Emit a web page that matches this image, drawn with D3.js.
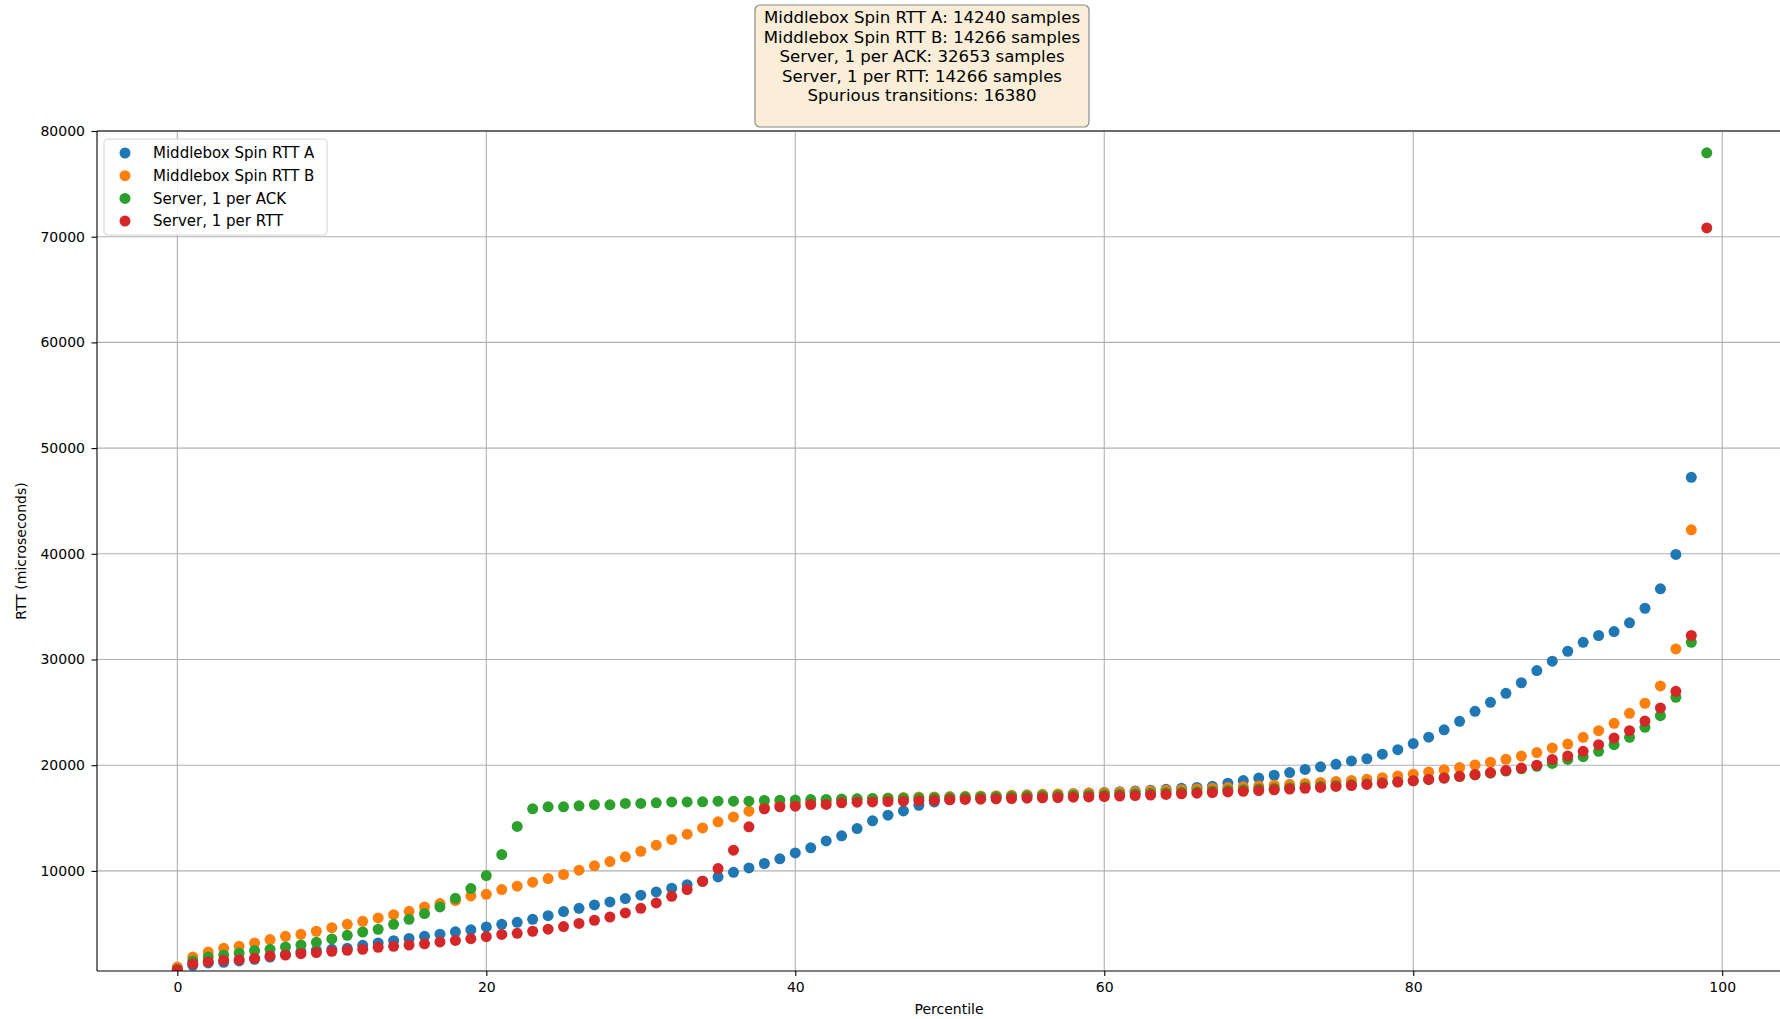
<!DOCTYPE html>
<html>
<head>
<meta charset="utf-8">
<script src="https://cdn.jsdelivr.net/npm/d3@7"></script>
<style>
  html, body { margin: 0; padding: 0; background: #fff; }
  svg { display: block; font-family: "DejaVu Sans", sans-serif; }
</style>
</head>
<body>
<svg id="chart" width="1780" height="1019"></svg>
<script>
// RTT percentile distributions (microseconds), one value per percentile
const percentiles = d3.range(0, 100);

const spinA = [
  600, 1070, 1290, 1350, 1480, 1630, 1850, 2100, 2350, 2480,
  2580, 2680, 2960, 3180, 3400, 3610, 3810, 4010, 4240, 4430,
  4700, 4950, 5140, 5420, 5760, 6150, 6460, 6780, 7060, 7380,
  7700, 8010, 8360, 8700, 9020, 9430, 9870, 10280, 10700, 11140,
  11700, 12180, 12840, 13320, 14010, 14740, 15270, 15670, 16200, 16530,
  16750, 16900, 17000, 17050, 17100, 17150, 17200, 17250, 17300, 17360,
  17420, 17490, 17560, 17640, 17720, 17810, 17900, 18000, 18300, 18550,
  18780, 19050, 19300, 19600, 19850, 20080, 20400, 20610, 21040, 21470,
  22050, 22650, 23350, 24150, 25100, 25950, 26800, 27800, 28950, 29840,
  30780, 31630, 32270, 32640, 33470, 34850, 36690, 39940, 47240
];

const spinB = [
  900, 1860, 2330, 2680, 2870, 3180, 3500, 3810, 4000, 4290,
  4630, 4950, 5230, 5550, 5860, 6180, 6590, 6910, 7200, 7630,
  7790, 8230, 8550, 8930, 9270, 9660, 10070, 10480, 10880, 11330,
  11860, 12430, 12970, 13470, 14070, 14640, 15110, 15650, 16000, 16250,
  16400, 16550, 16650, 16750, 16800, 16850, 16900, 16950, 16980, 17000,
  17030, 17060, 17090, 17120, 17160, 17200, 17240, 17280, 17320, 17360,
  17400, 17450, 17500, 17560, 17620, 17680, 17740, 17810, 17880, 17950,
  18030, 18110, 18190, 18280, 18370, 18460, 18560, 18680, 18820, 18980,
  19150, 19350, 19560, 19780, 20020, 20280, 20560, 20860, 21200, 21630,
  22000, 22640, 23270, 23960, 24910, 25860, 27500, 31000, 42270
];

const serverAck = [
  700, 1480, 1860, 2040, 2230, 2460, 2580, 2800, 2990, 3240,
  3560, 3910, 4220, 4480, 4950, 5420, 5960, 6590, 7410, 8330,
  9560, 11550, 14210, 15870, 16060, 16060, 16160, 16270, 16250, 16380,
  16380, 16440, 16530, 16530, 16540, 16600, 16600, 16600, 16660, 16690,
  16700, 16750, 16760, 16800, 16820, 16840, 16850, 16880, 16900, 16920,
  16950, 16980, 17000, 17020, 17050, 17080, 17100, 17120, 17150, 17180,
  17200, 17240, 17290, 17340, 17390, 17440, 17500, 17560, 17620, 17680,
  17740, 17800, 17870, 17940, 18010, 18090, 18170, 18250, 18340, 18430,
  18530, 18650, 18780, 18920, 19080, 19250, 19450, 19660, 19900, 20170,
  20550, 20810, 21310, 21940, 22640, 23580, 24690, 26430, 31630, 77940
];

const serverRtt = [
  650, 1220, 1410, 1540, 1600, 1730, 1950, 2040, 2170, 2270,
  2390, 2490, 2580, 2770, 2870, 2990, 3100, 3280, 3420, 3590,
  3780, 3990, 4100, 4290, 4490, 4730, 5030, 5330, 5640, 6020,
  6460, 6970, 7600, 8230, 9020, 10220, 11960, 14170, 15870, 16060,
  16120, 16280, 16290, 16440, 16500, 16520, 16560, 16600, 16640, 16680,
  16720, 16760, 16790, 16820, 16850, 16880, 16910, 16940, 16970, 17000,
  17030, 17080, 17130, 17180, 17230, 17290, 17350, 17410, 17470, 17530,
  17600, 17670, 17740, 17820, 17900, 17990, 18080, 18180, 18290, 18400,
  18520, 18650, 18790, 18950, 19120, 19300, 19500, 19730, 20000, 20550,
  20870, 21310, 21940, 22570, 23270, 24180, 25420, 26990, 32270, 70830
];

const seriesNames = ["Middlebox Spin RTT A", "Middlebox Spin RTT B", "Server, 1 per ACK", "Server, 1 per RTT"];
const seriesColors = ["#1f77b4", "#ff7f0e", "#2ca02c", "#d62728"];
const seriesValues = [spinA, spinB, serverAck, serverRtt];

const summaryLines = [
  "Middlebox Spin RTT A: 14240 samples",
  "Middlebox Spin RTT B: 14266 samples",
  "Server, 1 per ACK: 32653 samples",
  "Server, 1 per RTT: 14266 samples",
  "Spurious transitions: 16380"
];

const xTicks = [0, 20, 40, 60, 80, 100];
const yTicks = [10000, 20000, 30000, 40000, 50000, 60000, 70000, 80000];

// ---- layout ----
const svg = d3.select("#chart");
const plot = { left: 97, top: 131, right: 1801, bottom: 971 };

const x = d3.scaleLinear().domain([-5.2, 105.1]).range([plot.left, plot.right]);
const y = d3.scaleLinear().domain([530, 80000]).range([plot.bottom, plot.top]);

svg.append("rect").attr("width", 1780).attr("height", 1019).attr("fill", "#fff");

svg.append("defs").append("clipPath").attr("id", "plot-clip")
  .append("rect")
  .attr("x", plot.left).attr("y", plot.top)
  .attr("width", plot.right - plot.left).attr("height", plot.bottom - plot.top);

// grid
const grid = svg.append("g").attr("stroke", "#b0b0b0").attr("stroke-width", 1.1);
grid.selectAll("line.gx").data(xTicks).join("line")
  .attr("x1", d => x(d)).attr("x2", d => x(d))
  .attr("y1", plot.top).attr("y2", plot.bottom);
grid.selectAll("line.gy").data(yTicks).join("line")
  .attr("x1", plot.left).attr("x2", plot.right)
  .attr("y1", d => y(d)).attr("y2", d => y(d));

// points
const pts = svg.append("g").attr("clip-path", "url(#plot-clip)");
seriesValues.forEach((vals, s) => {
  pts.append("g").selectAll("circle")
    .data(vals.map((v, i) => [percentiles[i], v]))
    .join("circle")
    .attr("cx", d => x(d[0]))
    .attr("cy", d => y(d[1]))
    .attr("r", 5.5)
    .attr("fill", seriesColors[s]);
});

// axes
const xAxis = d3.axisBottom(x).tickValues(xTicks).tickSize(5).tickPadding(6).tickSizeOuter(0);
const yAxis = d3.axisLeft(y).tickValues(yTicks).tickSize(5.5).tickPadding(6.5).tickSizeOuter(0)
  .tickFormat(d3.format("d"));

const gx = svg.append("g").attr("transform", `translate(0,${plot.bottom})`).call(xAxis);
const gy = svg.append("g").attr("transform", `translate(${plot.left},0)`).call(yAxis);
[gx, gy].forEach(g => {
  g.select(".domain").remove();
  g.selectAll(".tick line").attr("stroke", "#000").attr("stroke-width", 1.1);
  g.selectAll(".tick text").attr("fill", "#000").style("font-size", "14px")
    .style("font-family", "DejaVu Sans, sans-serif");
});

// spines
const spines = svg.append("g").attr("stroke", "#000").attr("stroke-width", 1.1);
spines.append("line").attr("x1", plot.left).attr("x2", plot.left).attr("y1", plot.top).attr("y2", plot.bottom);
spines.append("line").attr("x1", plot.left).attr("x2", plot.right).attr("y1", plot.bottom).attr("y2", plot.bottom);
spines.append("line").attr("x1", plot.left).attr("x2", plot.right).attr("y1", plot.top).attr("y2", plot.top);

// axis labels
svg.append("text")
  .attr("x", (plot.left + plot.right) / 2).attr("y", 1014)
  .attr("text-anchor", "middle").style("font-size", "14px")
  .text("Percentile");
svg.append("text")
  .attr("transform", `translate(26,${(plot.top + plot.bottom) / 2}) rotate(-90)`)
  .attr("text-anchor", "middle").style("font-size", "14px")
  .text("RTT (microseconds)");

// legend
const lg = svg.append("g");
lg.append("rect")
  .attr("x", 104).attr("y", 139).attr("width", 223).attr("height", 96)
  .attr("rx", 4).attr("fill", "#fff").attr("fill-opacity", 0.8)
  .attr("stroke", "#d6d6d6").attr("stroke-width", 1.1);
seriesNames.forEach((name, i) => {
  const yy = 153 + i * 22.7;
  lg.append("circle").attr("cx", 125).attr("cy", yy).attr("r", 5.5).attr("fill", seriesColors[i]);
  lg.append("text").attr("x", 153).attr("y", yy + 5.3).style("font-size", "15px").attr("fill", "#000").text(name);
});

// sample-count summary box
const box = svg.append("g");
box.append("rect")
  .attr("x", 755).attr("y", 5).attr("width", 334).attr("height", 122)
  .attr("rx", 5).attr("fill", "#faeed9").attr("stroke", "#8a8a8a").attr("stroke-width", 1.2);
summaryLines.forEach((t, i) => {
  box.append("text")
    .attr("x", 922).attr("y", 23.3 + i * 19.4)
    .attr("text-anchor", "middle").style("font-size", "16.6px").attr("fill", "#000")
    .text(t);
});
</script>
</body>
</html>
